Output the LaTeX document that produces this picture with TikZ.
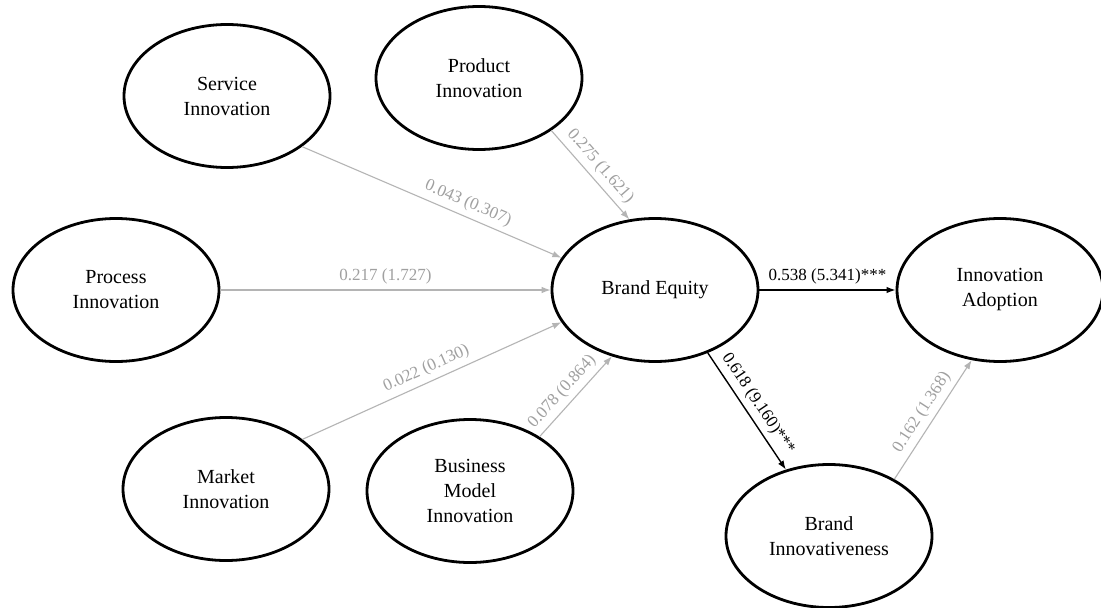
\documentclass[tikz,border=0pt]{standalone}
\usepackage{fontspec}
\setmainfont{Liberation Serif}
\usetikzlibrary{arrows.meta,shapes.geometric}
\definecolor{pathgray}{RGB}{180,180,180}
\definecolor{labelgray}{RGB}{160,160,160}
\begin{document}
\begin{tikzpicture}[x=1pt,y=-1pt,
  construct/.style={ellipse, draw=black, line width=2.8pt, minimum width=206pt,
    minimum height=143pt, inner sep=0pt, align=center,
    font=\fontsize{20}{25}\selectfont},
  weakpath/.style={draw=pathgray, line width=1.1pt, -{Latex[length=9pt,width=6.5pt]}},
  strongpath/.style={draw=black, line width=1.4pt, -{Latex[length=9pt,width=6.5pt]}},
  weaklabel/.style={sloped, above=2pt, text=labelgray, inner sep=3pt,
    font=\fontsize{17}{19}\selectfont},
  stronglabel/.style={sloped, above=2pt, text=black, inner sep=3pt,
    font=\fontsize{17}{19}\selectfont}]

% canvas
\fill[white] (0,0) rectangle (1101,608);
\useasboundingbox (0,0) rectangle (1101,608);

% constructs
\node[construct] (service)  at (227,96)  {Service\\Innovation};
\node[construct] (product)  at (479,78)  {Product\\Innovation};
\node[construct] (process)  at (116,290) {Process\\Innovation};
\node[construct] (market)   at (226,489) {Market\\Innovation};
\node[construct] (business) at (470,491) {Business\\Model\\Innovation};
\node[construct] (equity)   at (655,290) {Brand Equity};
\node[construct] (adoption) at (1000,290) {Innovation\\Adoption};
\node[construct] (innov)    at (829,536) {Brand\\Innovativeness};

% structural paths
\draw[weakpath] (service.-34) -- node[weaklabel, pos=0.62] {0.043 (0.307)} (equity.161);
\draw[weakpath] (product.-36) -- node[weaklabel] {0.275 (1.621)} (equity.110);
\draw[weakpath] (process.east) -- node[weaklabel] {0.217 (1.727)} (equity.west);
\draw[weakpath] (market.33) -- node[weaklabel] {0.022 (0.130)} (equity.-161);
\draw[weakpath] (business.38) -- node[weaklabel, pos=0.45] {0.078 (0.864)} (equity.-123);
\draw[strongpath] (equity.east) -- node[stronglabel] {0.538 (5.341)***} (adoption.west);
\draw[strongpath] (equity.-50) -- node[stronglabel] {0.618 (9.160)***} (innov.123);
\draw[weakpath] (innov.41) -- node[weaklabel] {0.162 (1.368)} (adoption.-112);
\end{tikzpicture}
\end{document}
